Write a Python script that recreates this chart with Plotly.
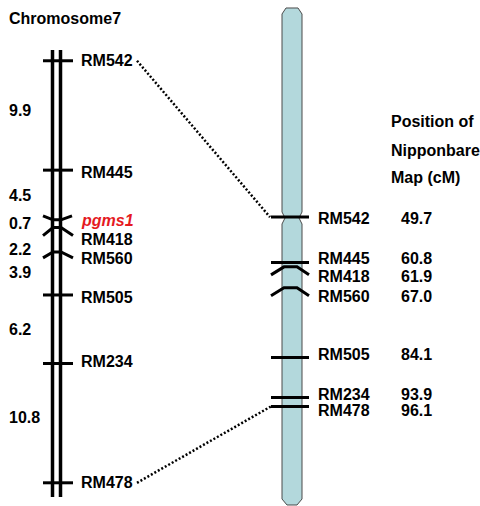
import plotly.graph_objects as go

# ---------------- data ----------------
left_markers = ["RM542", "RM445", "pgms1", "RM418", "RM560", "RM505", "RM234", "RM478"]
left_intervals = [9.9, 4.5, 0.7, 2.2, 3.9, 6.2, 10.8]          # cM between consecutive markers
right_markers = ["RM542", "RM445", "RM418", "RM560", "RM505", "RM234", "RM478"]
right_positions = [49.7, 60.8, 61.9, 67.0, 84.1, 93.9, 96.1]   # Nipponbare map position (cM)
header_lines = ["Position of", "Nipponbare", "Map (cM)"]
chrom_title = "Chromosome7"
target_gene = "pgms1"

# ---------------- layout constants ----------------
W, H = 480, 506
LEFT_RANGE = [40.3, -5.5]      # y  axis (genetic map, cM), reversed
RIGHT_RANGE = [120.5, -3.5]    # y2 axis (Nipponbare map, cM), reversed
FONT = "Liberation Sans, Arial, sans-serif"

left_pos = [0.0]
for d in left_intervals:
    left_pos.append(round(left_pos[-1] + d, 4))

s1 = H / (LEFT_RANGE[0] - LEFT_RANGE[1])    # px per cM, left
s2 = H / (RIGHT_RANGE[0] - RIGHT_RANGE[1])  # px per cM, right


def y2_to_y(v):
    px = (v - RIGHT_RANGE[1]) * s2
    return px / s1 + LEFT_RANGE[1]


def py(p):
    return 1 - p / H


left_style = {"pgms1": ("smile", 4), "RM418": ("frown", 8), "RM560": ("frown", 6)}
right_style = {"RM418": ("frown", 8), "RM560": ("frown", 8)}

fig = go.Figure()

# left chromosome (double line)
shapes = []
for xx in (52.5, 60.5):
    shapes.append(dict(type="line", xref="x", yref="paper", x0=xx, x1=xx,
                       y0=py(50), y1=py(497), line=dict(color="black", width=3.5)))

# right chromosome body
pts = [(282, 14), (286, 8), (298, 8), (302, 14), (302, 212), (299, 218), (302, 224),
       (302, 499), (297, 505), (287, 505), (282, 499), (282, 224), (285, 218), (282, 212)]
path = "M " + " L ".join(f"{x},{py(y):.5f}" for x, y in pts) + " Z"
shapes.append(dict(type="path", xref="x", yref="paper", path=path,
                   fillcolor="#b3d8dc", line=dict(color="#4a4a4a", width=1), layer="below"))

# left ticks
lx, ly = [], []
for m, v in zip(left_markers, left_pos):
    kind, amp = left_style.get(m, ("flat", 0))
    if kind == "flat":
        xs, offs = [43, 73], [0, 0]
    elif kind == "smile":
        xs, offs = [43, 53, 61, 72], [-amp, 0, 0, -amp]
    else:
        xs, offs = [43, 53, 61, 73], [amp, 0, 0, amp]
    lx += xs + [None]
    ly += [v + o / s1 for o in offs] + [None]
fig.add_trace(go.Scatter(x=lx, y=ly, mode="lines", line=dict(color="black", width=3),
                         hoverinfo="skip", showlegend=False))

# right ticks
rx, ry = [], []
for m, v in zip(right_markers, right_positions):
    kind, amp = right_style.get(m, ("flat", 0))
    if kind == "flat":
        xs, offs = [271, 309], [0, 0]
    else:
        xs, offs = [271, 284, 297, 309], [amp, 0, 0, amp]
    rx += xs + [None]
    ry += [v + o / s2 for o in offs] + [None]
fig.add_trace(go.Scatter(x=rx, y=ry, mode="lines", line=dict(color="black", width=3),
                         yaxis="y2", hoverinfo="skip", showlegend=False))

# dotted connectors (first and last shared marker)
dot = dict(color="black", width=2.5, dash="2px,2px")
fig.add_trace(go.Scatter(x=[137, 270], y=[left_pos[0], y2_to_y(right_positions[0])],
                         mode="lines", line=dot, hoverinfo="skip", showlegend=False))
fig.add_trace(go.Scatter(x=[137, 271], y=[left_pos[-1], y2_to_y(right_positions[-1])],
                         mode="lines", line=dot, hoverinfo="skip", showlegend=False))

ann = []
base = dict(showarrow=False, xanchor="left", yanchor="middle",
            font=dict(family=FONT, size=16, color="black", weight="bold"))

# left marker labels
left_label_shift = {"RM445": 2, "pgms1": 1, "RM418": 12, "RM560": 7, "RM505": 3, "RM234": -2}
for m, v in zip(left_markers, left_pos):
    a = dict(base, x=79, y=v, xref="x", yref="y", text=m,
             yshift=-left_label_shift.get(m, 0))
    if m == target_gene:
        a["font"] = dict(family=FONT, size=16, color="#e5191f", weight="bold", style="italic")
    ann.append(a)

# interval labels
interval_shift = [-5, 0, 0, 10, -1, 0, -6]
for i, d in enumerate(left_intervals):
    mid = (left_pos[i] + left_pos[i + 1]) / 2
    ann.append(dict(base, x=7, y=mid, xref="x", yref="y", text=f"{d:.1f}",
                    yshift=-interval_shift[i]))

# right labels + positions
right_label_shift = {"RM542": 1, "RM445": -4, "RM418": 10, "RM560": 9, "RM505": -3,
                     "RM234": -3, "RM478": 4}
for m, v in zip(right_markers, right_positions):
    sh = -right_label_shift.get(m, 0)
    ann.append(dict(base, x=316, y=v, xref="x", yref="y2", text=m, yshift=sh))
    ann.append(dict(base, x=399, y=v, xref="x", yref="y2", text=f"{v:.1f}", yshift=sh))

# titles
ann.append(dict(base, x=7, y=py(18), xref="x", yref="paper", text=chrom_title))
for i, t in enumerate(header_lines):
    ann.append(dict(base, x=389, y=py(122 + 28 * i), xref="x", yref="paper", text=t))

fig.update_layout(
    width=W, height=H, margin=dict(l=0, r=0, t=0, b=0),
    paper_bgcolor="white", plot_bgcolor="white",
    xaxis=dict(range=[0, W], visible=False, fixedrange=True),
    yaxis=dict(range=LEFT_RANGE, visible=False, fixedrange=True),
    yaxis2=dict(range=RIGHT_RANGE, visible=False, overlaying="y", fixedrange=True),
    shapes=shapes, annotations=ann, showlegend=False,
)

fig.write_html("out.html", config={"displayModeBar": False},
               post_script="document.body.style.margin='0';document.body.style.overflow='hidden';")
